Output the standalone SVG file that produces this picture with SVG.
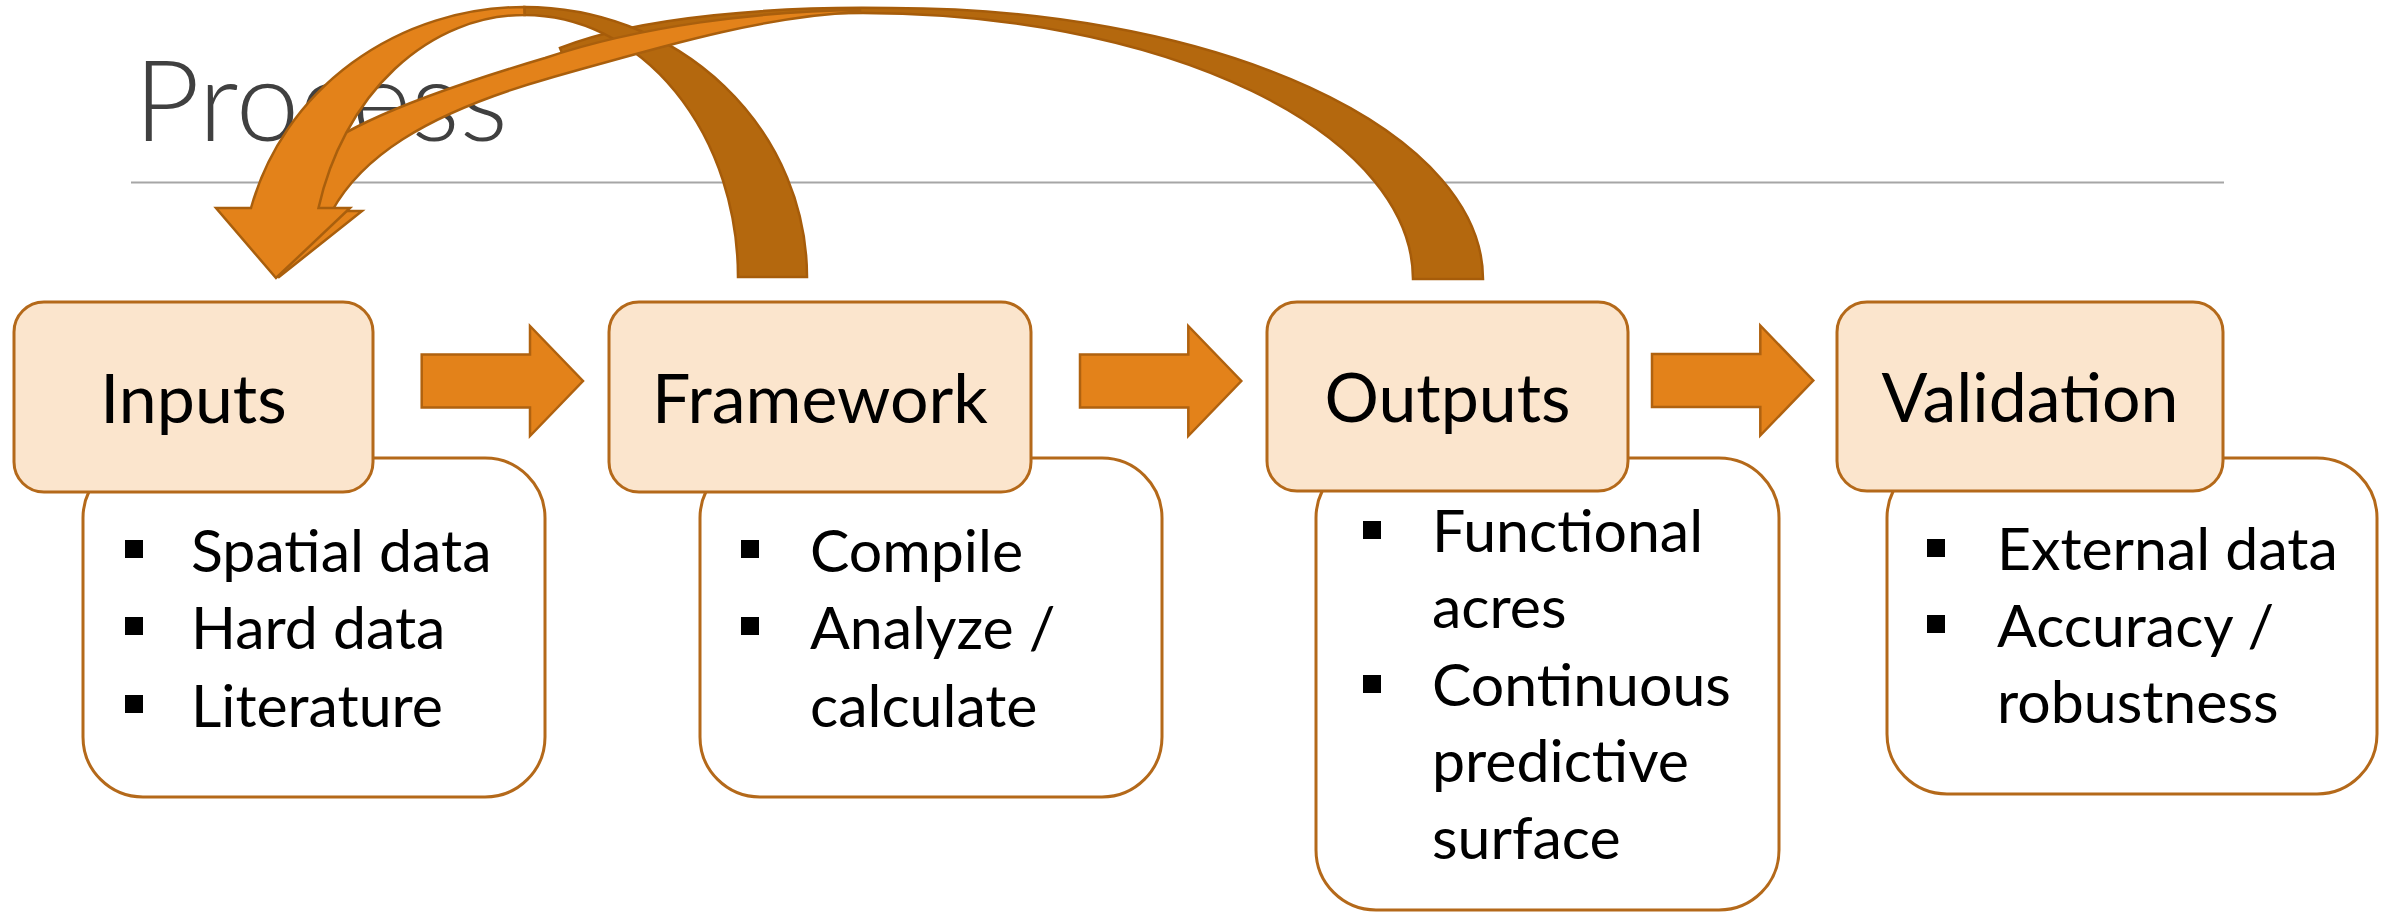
<svg xmlns="http://www.w3.org/2000/svg" width="2384" height="913" viewBox="0 0 2384 913">
  <style>
    .title { font-family: Lato, "Open Sans", "Liberation Sans", sans-serif; font-weight: 300; font-size: 112px; fill: #404040; }
    .head { fill: #FBE5CD; stroke: #B4691A; stroke-width: 3; }
    .detail { fill: #FFFFFF; stroke: #B4691A; stroke-width: 3; }
    .htext { font-family: Lato, "Open Sans", "Liberation Sans", sans-serif; font-size: 68px; fill: #000000; text-anchor: middle; }
    .btext { font-family: Lato, "Open Sans", "Liberation Sans", sans-serif; font-size: 59px; fill: #000000; }
    .bullet { fill: #000000; }
    .block { fill: #E3821A; stroke: #B0620F; stroke-width: 2.5; stroke-linejoin: miter; }
    .front { fill: #E3821A; stroke: #A95F0D; stroke-width: 2.5; stroke-linejoin: miter; }
    .back { fill: #B4680E; stroke: #A65C0A; stroke-width: 2.5; stroke-linejoin: miter; }
  </style>
  <defs>
    <path id="blockArrow" d="M0,28.6 H108.3 V0 L161.3,55 L108.3,110 V81.6 H0 Z"/>
  </defs>

  <rect width="2384" height="913" fill="#FFFFFF"/>

  <!-- slide title and rule -->
  <text class="title" x="134" y="141" textLength="374" lengthAdjust="spacingAndGlyphs">Process</text>
  <line x1="131" y1="182.5" x2="2224" y2="182.5" stroke="#A6A6A6" stroke-width="2"/>

  <!-- Inputs -->
  <g id="inputs">
    <rect class="detail" x="83" y="458" width="462" height="339" rx="60" ry="60"/>
    <rect class="head" x="14" y="302" width="359" height="190" rx="30" ry="30"/>
    <text class="htext" x="193.5" y="423">Inputs</text>
    <rect class="bullet" x="125" y="540" width="18" height="18"/>
    <text class="btext" x="191" y="572">Spatial data</text>
    <rect class="bullet" x="125" y="617" width="18" height="18"/>
    <text class="btext" x="191" y="649">Hard data</text>
    <rect class="bullet" x="125" y="695" width="18" height="18"/>
    <text class="btext" x="191" y="727">Literature</text>
  </g>

  <!-- Framework -->
  <g id="framework">
    <rect class="detail" x="700" y="458" width="462" height="339" rx="60" ry="60"/>
    <rect class="head" x="609" y="302" width="422" height="190" rx="30" ry="30"/>
    <text class="htext" x="820" y="423">Framework</text>
    <rect class="bullet" x="741" y="540" width="18" height="18"/>
    <text class="btext" x="810" y="572">Compile</text>
    <rect class="bullet" x="741" y="617" width="18" height="18"/>
    <text class="btext" x="810" y="649">Analyze /</text>
    <text class="btext" x="810" y="727">calculate</text>
  </g>

  <!-- Outputs -->
  <g id="outputs">
    <rect class="detail" x="1316" y="458" width="463" height="452" rx="60" ry="60"/>
    <rect class="head" x="1267" y="302" width="361" height="189" rx="30" ry="30"/>
    <text class="htext" x="1447.5" y="422">Outputs</text>
    <rect class="bullet" x="1363" y="521" width="18" height="18"/>
    <text class="btext" x="1432" y="552">Functional</text>
    <text class="btext" x="1432" y="628">acres</text>
    <rect class="bullet" x="1363" y="675" width="18" height="18"/>
    <text class="btext" x="1432" y="706">Continuous</text>
    <text class="btext" x="1432" y="782">predictive</text>
    <text class="btext" x="1432" y="859">surface</text>
  </g>

  <!-- Validation -->
  <g id="validation">
    <rect class="detail" x="1887" y="458" width="490" height="336" rx="60" ry="60"/>
    <rect class="head" x="1837" y="302" width="386" height="189" rx="30" ry="30"/>
    <text class="htext" x="2030" y="422">Validation</text>
    <rect class="bullet" x="1927" y="539" width="18" height="18"/>
    <text class="btext" x="1997" y="570">External data</text>
    <rect class="bullet" x="1927" y="615" width="18" height="18"/>
    <text class="btext" x="1997" y="647">Accuracy /</text>
    <text class="btext" x="1997" y="723">robustness</text>
  </g>

  <!-- connectors -->
  <g id="connectors">
    <!-- forward block arrows -->
    <use href="#blockArrow" class="block" transform="translate(421.7,326)"/>
    <use href="#blockArrow" class="block" transform="translate(1080,326)"/>
    <use href="#blockArrow" class="block" transform="translate(1652,325.5)"/>

    <!-- Outputs back to Inputs: shaded back ribbon -->
    <path class="back" d="M1483,279 A592,271 0 0 0 891,8 C780,6 640,16 560,48 L562,53 C660,24 780,13 863,13 A550,266 0 0 1 1413,279 Z"/>
    <!-- Framework back to Inputs: shaded back ribbon -->
    <path class="back" d="M807,277 A282.7,270 0 0 0 524.3,7 L524.5,15 A213.5,262 0 0 1 738,277 Z"/>
    <!-- Outputs back to Inputs: front ribbon with head -->
    <path class="front" d="M860,10 C760,11 640,26 545,58 C420,95 290,140 262,211 L228,211 L279,277 L362,211 L332,211 C360,160 420,115 550,78 C650,50 760,16 860,12 Z"/>
    <!-- Framework back to Inputs: front ribbon with head -->
    <path class="front" d="M524.3,7 A282.7,270 0 0 0 251,208 L216,208 L276,278 L350,208 L318.5,208 A213.5,262 0 0 1 524.5,15 Z"/>
  </g>
</svg>
